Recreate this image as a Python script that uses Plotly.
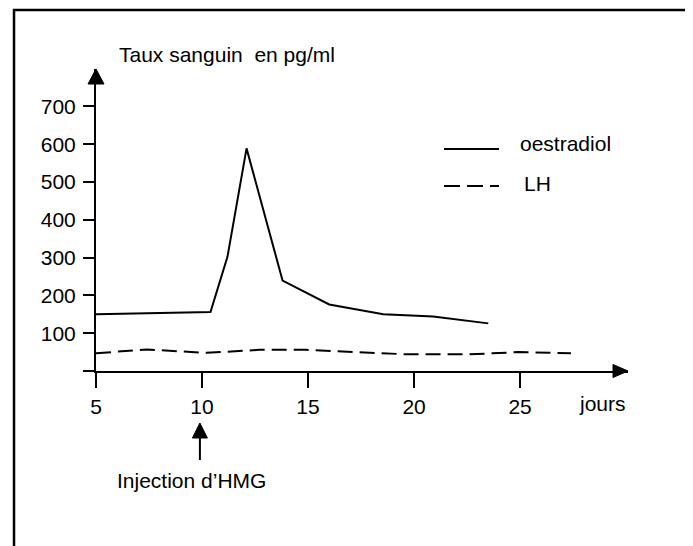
import plotly.graph_objects as go

# ---- data ----
oestradiol_days = [5, 10.4, 11.2, 12.1, 13.8, 16.0, 18.55, 20.9, 23.5]
oestradiol_vals = [150, 156, 302, 589, 239, 176, 150, 144, 126]

lh_days = [5, 7.4, 10.2, 12.7, 14.9, 17.4, 19.7, 22.6, 24.9, 27.4]
lh_vals = [47, 57, 48, 56, 56, 50, 44, 44, 50, 47]

x_ticks = [5, 10, 15, 20, 25]
y_ticks = [100, 200, 300, 400, 500, 600, 700]

injection_day = 9.9

title_text = "Taux sanguin\u00a0 en pg/ml"
x_label = "jours"
injection_text = "Injection d\u2019HMG"
legend_names = ["oestradiol", "LH"]

FONT = "Liberation Sans"
FS = 21

fig = go.Figure()
fig.add_trace(go.Scatter(x=oestradiol_days, y=oestradiol_vals, mode="lines",
                         line=dict(color="black", width=2), showlegend=False,
                         name=legend_names[0]))
fig.add_trace(go.Scatter(x=lh_days, y=lh_vals, mode="lines",
                         line=dict(color="black", width=2, dash="15px,7px"),
                         showlegend=False, name=legend_names[1]))

shapes = []
# frame
shapes.append(dict(type="rect", xref="paper", yref="paper",
                   x0=-0.1541, x1=1.1128, y0=-0.65, y1=1.1954,
                   line=dict(color="black", width=2.5), fillcolor="rgba(0,0,0,0)"))
# y-axis arrow head
shapes.append(dict(type="path", xref="paper", yref="paper", xsizemode="pixel", ysizemode="pixel",
                   xanchor=0, yanchor=1, path="M -8,-15 L 8,-15 L 0,0 Z",
                   fillcolor="black", line=dict(color="black", width=1)))
# x-axis arrow head
shapes.append(dict(type="path", xref="paper", yref="paper", xsizemode="pixel", ysizemode="pixel",
                   xanchor=1, yanchor=0, path="M 0,0 L -15,6.5 L -15,-6.5 Z",
                   fillcolor="black", line=dict(color="black", width=1)))
# x-axis extension to the left of the y-axis
shapes.append(dict(type="path", xref="paper", yref="paper", xsizemode="pixel", ysizemode="pixel",
                   xanchor=0, yanchor=0, path="M -13,0 L 0,0",
                   line=dict(color="black", width=2)))
# injection arrow
shapes.append(dict(type="path", xref="x", yref="paper", xsizemode="pixel", ysizemode="pixel",
                   xanchor=injection_day, yanchor=0, path="M 0,-52 L -7.5,-67 L 7.5,-67 Z",
                   fillcolor="black", line=dict(color="black", width=1)))
shapes.append(dict(type="path", xref="x", yref="paper", xsizemode="pixel", ysizemode="pixel",
                   xanchor=injection_day, yanchor=0, path="M 0,-66 L 0,-89",
                   line=dict(color="black", width=2)))
# legend samples
shapes.append(dict(type="line", xref="paper", yref="paper", x0=0.6541, x1=0.7575,
                   y0=0.7351, y1=0.7351, line=dict(color="black", width=2)))
shapes.append(dict(type="line", xref="paper", yref="paper", x0=0.6541, x1=0.7575,
                   y0=0.6126, y1=0.6126, line=dict(color="black", width=2, dash="16px,7px")))

annotations = [
    dict(text=title_text, xref="paper", yref="paper", x=0.0389, y=1.0464,
         xanchor="left", yanchor="middle", showarrow=False),
    dict(text=legend_names[0], xref="paper", yref="paper", x=0.7932, y=0.7517,
         xanchor="left", yanchor="middle", showarrow=False),
    dict(text=legend_names[1], xref="paper", yref="paper", x=0.8008, y=0.6225,
         xanchor="left", yanchor="middle", showarrow=False),
    dict(text=x_label, xref="paper", yref="paper", x=0.9041, y=-0.106,
         xanchor="left", yanchor="middle", showarrow=False),
    dict(text=injection_text, xref="paper", yref="paper", x=0.1786, y=-0.361,
         xanchor="center", yanchor="middle", showarrow=False),
]

fig.update_layout(
    width=685, height=538, autosize=False,
    margin=dict(l=88, r=65, t=61, b=175, pad=0),
    paper_bgcolor="white", plot_bgcolor="white",
    font=dict(family=FONT, size=FS, color="black"),
    shapes=shapes, annotations=annotations,
    xaxis=dict(range=[5, 30.09], showgrid=False, zeroline=False, showline=True,
               linecolor="black", linewidth=2, ticks="outside", ticklen=15, tickwidth=2,
               tickcolor="black", tickvals=x_ticks, ticktext=[str(v) for v in x_ticks],
               ticklabelstandoff=1, tickfont=dict(family=FONT, size=FS)),
    yaxis=dict(range=[0, 799], showgrid=False, zeroline=False, showline=True,
               linecolor="black", linewidth=2, ticks="outside", ticklen=11, tickwidth=2,
               tickcolor="black", tickvals=y_ticks, ticktext=[str(v) for v in y_ticks],
               ticklabelstandoff=3, tickfont=dict(family=FONT, size=FS)),
)

fig.write_html("out.html")
